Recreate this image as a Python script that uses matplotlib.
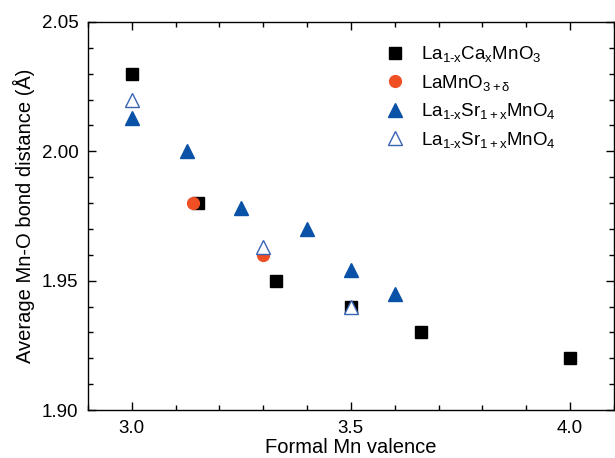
import matplotlib
matplotlib.use('Agg')
import matplotlib.pyplot as plt
from matplotlib.ticker import MultipleLocator, FormatStrFormatter

# data
ca_x = [3.0, 3.15, 3.33, 3.5, 3.66, 4.0]
ca_y = [2.03, 1.98, 1.95, 1.94, 1.93, 1.92]

lamno_x = [3.14, 3.30]
lamno_y = [1.98, 1.96]

sr_x = [3.0, 3.125, 3.25, 3.40, 3.50, 3.60]
sr_y = [2.013, 2.000, 1.978, 1.970, 1.954, 1.945]

sr_open_x = [3.0, 3.30, 3.50]
sr_open_y = [2.020, 1.963, 1.940]

labels = ['La$_{\\mathrm{1\u2010x}}$Ca$_{\\mathrm{x}}$MnO$_{\\mathrm{3}}$',
          'LaMnO$_{\\mathrm{3+\\delta}}$',
          'La$_{\\mathrm{1\u2010x}}$Sr$_{\\mathrm{1+x}}$MnO$_{\\mathrm{4}}$',
          'La$_{\\mathrm{1\u2010x}}$Sr$_{\\mathrm{1+x}}$MnO$_{\\mathrm{4}}$']

plt.rcParams['font.family'] = 'Liberation Sans'
plt.rcParams['mathtext.fontset'] = 'custom'
plt.rcParams['mathtext.rm'] = 'Liberation Sans'
plt.rcParams['mathtext.it'] = 'Liberation Sans:italic'
plt.rcParams['font.size'] = 13

fig = plt.figure(figsize=(6.15, 4.58), dpi=100)
ax = fig.add_axes([0.1431, 0.1048, 0.8549, 0.8472])

ax.plot(ca_x, ca_y, ls='none', marker='s', ms=8, color='black',
        mec='black', label=labels[0], zorder=2)
ax.plot(lamno_x, lamno_y, ls='none', marker='o', ms=8.5, color='#F04E23',
        mec='#F04E23', label=labels[1], zorder=3)
ax.plot(sr_x, sr_y, ls='none', marker='^', ms=9.5, color='#0A52A8',
        mec='#0A52A8', label=labels[2], zorder=4)
ax.plot(sr_open_x, sr_open_y, ls='none', marker='^', ms=9.5, mfc='white',
        mec='#3A64B4', mew=1.0, label=labels[3], zorder=5)

ax.set_xlim([2.9, 4.1])
ax.set_ylim([1.90, 2.05])
ax.xaxis.set_major_locator(MultipleLocator(0.5))
ax.xaxis.set_minor_locator(MultipleLocator(0.1))
ax.yaxis.set_major_locator(MultipleLocator(0.05))
ax.yaxis.set_minor_locator(MultipleLocator(0.01))
ax.xaxis.set_major_formatter(FormatStrFormatter('%.1f'))
ax.yaxis.set_major_formatter(FormatStrFormatter('%.2f'))
ax.tick_params(which='both', direction='in', top=True, right=True,
               labelsize=13.5, width=1.0)
ax.tick_params(which='major', length=6, pad=7)
ax.tick_params(which='minor', length=3.5)
for s in ax.spines.values():
    s.set_linewidth(1.0)

ax.set_xlabel('Formal Mn valence', fontsize=14.5, labelpad=1)
ax.set_ylabel('Average Mn-O bond distance (Å)', fontsize=14.5, labelpad=5)

ax.legend(loc='upper right', frameon=False, fontsize=13.5, handletextpad=0.4,
          labelspacing=0.45, borderaxespad=0.8, bbox_to_anchor=(0.933, 1.0))

plt.savefig('out.png', dpi=100)
